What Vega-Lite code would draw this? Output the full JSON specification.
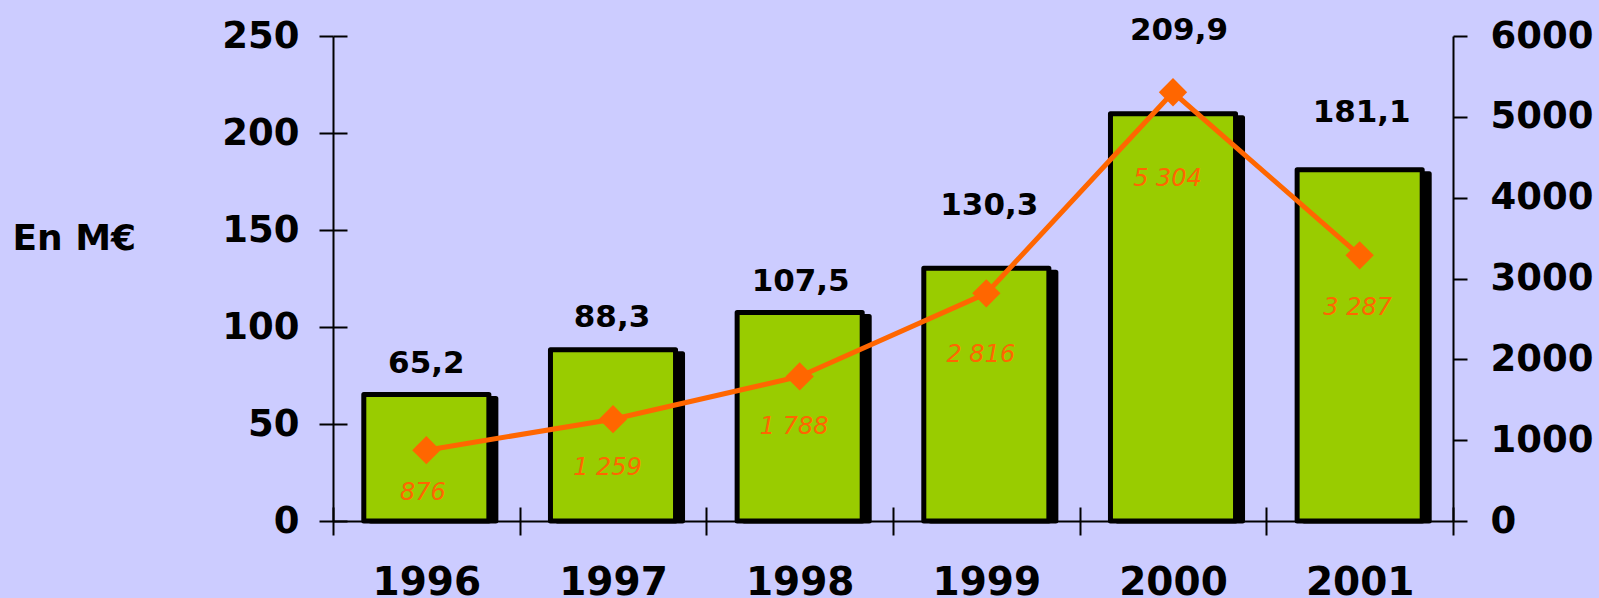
{
  "$schema": "https://vega.github.io/schema/vega-lite/v6.json",
  "width": 1120,
  "height": 485,
  "autosize": {"type": "none"},
  "padding": {"left": 333, "top": 36, "right": 146, "bottom": 77},
  "background": "#CCCCFF",
  "config": {
    "view": {"stroke": null},
    "locale": {"number": {"decimal": ",", "thousands": " ", "grouping": [3], "currency": ["", " €"]}},
    "font": "DejaVu Sans",
    "axis": {
      "domainColor": "black", "domainWidth": 2,
      "tickColor": "black", "tickWidth": 2, "tickSize": 14,
      "labelFont": "DejaVu Sans", "labelFontWeight": "bold", "labelColor": "black",
      "grid": true, "gridColor": "black", "gridWidth": 2, "gridDash": [14, 3000], "gridOpacity": 1,
      "titleColor": "black"
    }
  },
  "data": {
    "values": [
      {"year": "1996", "ca": 65.2, "nombre": 876},
      {"year": "1997", "ca": 88.3, "nombre": 1259},
      {"year": "1998", "ca": 107.5, "nombre": 1788},
      {"year": "1999", "ca": 130.3, "nombre": 2816},
      {"year": "2000", "ca": 209.9, "nombre": 5304},
      {"year": "2001", "ca": 181.1, "nombre": 3287}
    ]
  },
  "encoding": {
    "x": {
      "field": "year", "type": "nominal",
      "scale": {"paddingInner": 0, "paddingOuter": 0},
      "axis": {"title": null, "labelAngle": 0, "labelFontSize": 39, "labelPadding": 28, "tickBand": "extent", "gridDash": [0, 471, 14, 3000]}
    }
  },
  "layer": [
    {
      "encoding": {
        "y": {
          "field": "ca", "type": "quantitative", "stack": null,
          "scale": {"domain": [0, 250], "nice": false},
          "axis": {
            "title": "En M€", "titleAngle": 0, "titleX": -321, "titleY": 202, "titleAlign": "left", "titleBaseline": "middle",
            "titleFontSize": 36, "titleFontWeight": "bold", "titleFont": "DejaVu Sans",
            "labelFontSize": 37, "labelPadding": 20, "values": [0, 50, 100, 150, 200, 250], "format": "d"
          }
        }
      },
      "layer": [
        {"mark": {"type": "bar", "width": {"band": 0.67}, "fill": "black", "stroke": "black", "strokeWidth": 5, "strokeJoin": "round", "xOffset": 7, "yOffset": 4, "y2Offset": -4}},
        {"mark": {"type": "bar", "width": {"band": 0.67}, "fill": "#99CC00", "stroke": "black", "strokeWidth": 5, "strokeJoin": "round"}},
        {
          "mark": {
            "type": "text", "font": "DejaVu Sans", "fontWeight": "bold", "fontSize": 31, "color": "black", "baseline": "alphabetic",
            "dy": {"expr": "datum.year=='1996'?-22:datum.year=='1997'?-23:datum.year=='1998'?-21:datum.year=='1999'?-53:datum.year=='2000'?-74:-48"},
            "dx": {"expr": "datum.year=='1997'?-1:datum.year=='1998'?1:datum.year=='1999'?3:datum.year=='2000'?6:datum.year=='2001'?2:0"}
          },
          "encoding": {"text": {"field": "ca", "type": "quantitative", "format": ".1f"}}
        }
      ]
    },
    {
      "encoding": {
        "y": {
          "field": "nombre", "type": "quantitative",
          "scale": {"domain": [0, 6000], "nice": false},
          "axis": {"orient": "right", "title": null, "labelFontSize": 37, "labelPadding": 23, "values": [0, 1000, 2000, 3000, 4000, 5000, 6000], "format": "d"}
        }
      },
      "layer": [
        {"mark": {"type": "line", "color": "#FF6600", "strokeWidth": 5}},
        {"mark": {"type": "point", "shape": "diamond", "size": 800, "filled": true, "color": "#FF6600", "opacity": 1}},
        {
          "mark": {
            "type": "text", "font": "DejaVu Sans", "fontStyle": "italic", "fontSize": 24, "color": "#FF6600", "baseline": "middle",
            "dy": {"expr": "datum.year=='1996'?42.5:datum.year=='1997'?48.5:datum.year=='1998'?51:datum.year=='1999'?61.5:datum.year=='2000'?86.5:52.5"},
            "dx": {"expr": "datum.year=='1996'?-3.5:datum.year=='2001'?-2:-5.5"}
          },
          "encoding": {"text": {"field": "nombre", "type": "quantitative", "format": ",d"}}
        }
      ]
    }
  ],
  "resolve": {"scale": {"y": "independent"}}
}
